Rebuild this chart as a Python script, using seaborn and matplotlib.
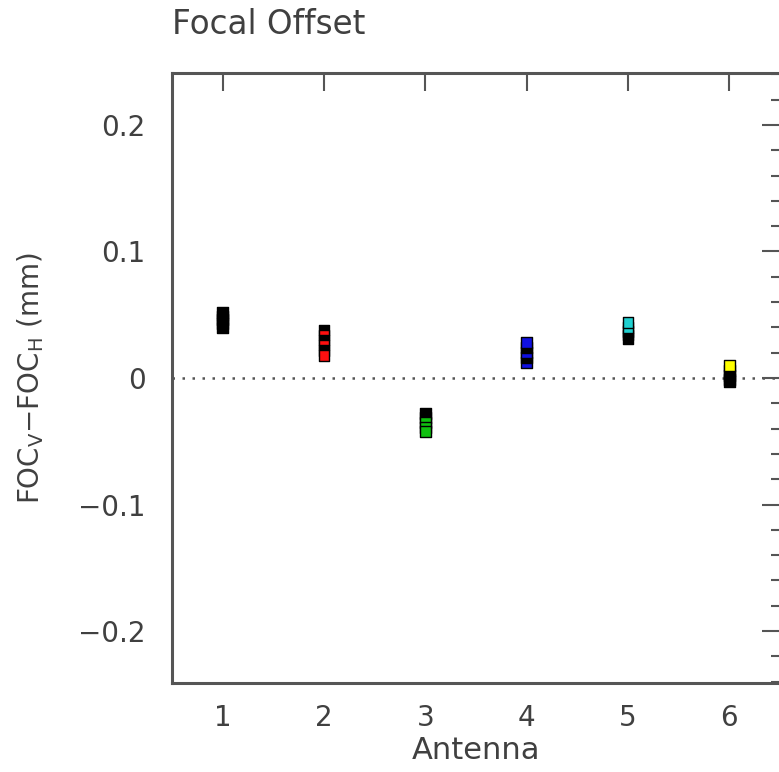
import matplotlib
matplotlib.use("Agg")
import matplotlib.pyplot as plt
from matplotlib.ticker import MultipleLocator
import seaborn as sns
import pandas as pd

antenna = [1, 1, 1, 1, 1,
           2, 2, 2, 2, 2, 2,
           3, 3, 3, 3, 3,
           4, 4, 4, 4, 4,
           5, 5, 5, 5, 5,
           6, 6, 6, 6, 6]
offset = [0.052, 0.049, 0.046, 0.043, 0.040,
          0.038, 0.034, 0.030, 0.026, 0.022, 0.018,
          -0.028, -0.031, -0.035, -0.039, -0.042,
          0.012, 0.016, 0.020, 0.024, 0.028,
          0.031, 0.034, 0.037, 0.040, 0.044,
          -0.003, -0.001, 0.002, 0.006, 0.010]
group = ["black"] * 5 + \
        ["black", "red", "black", "red", "black", "red"] + \
        ["black", "black", "green", "green", "green"] + \
        ["blue", "black", "blue", "black", "blue"] + \
        ["black", "black", "black", "cyan", "cyan"] + \
        ["black", "black", "black", "black", "yellow"]

colours = {"black": "#000000", "red": "#ff1010", "green": "#10c010",
           "blue": "#1010e0", "cyan": "#20d0d0", "yellow": "#ffff00"}

df = pd.DataFrame({"antenna": antenna, "offset": offset, "group": group})

sns.set_style("white")
plt.rcParams['font.family'] = ['DejaVu Sans']

fig = plt.figure(figsize=(7.79, 7.72), dpi=100)
ax = fig.add_axes([0.2208, 0.1153, 0.7805, 0.7901])

ax.axhline(0, color="#555555", linestyle=(0, (1, 3)), linewidth=1.8, zorder=1)

sns.scatterplot(data=df, x="antenna", y="offset", hue="group", palette=colours,
                marker="s", s=60, edgecolor="black", linewidth=1.0,
                legend=False, ax=ax, zorder=3)

ax.set_xlim(0.5, 6.5)
ax.set_ylim(-0.241, 0.241)
ax.xaxis.set_major_locator(MultipleLocator(1))
ax.yaxis.set_minor_locator(MultipleLocator(0.02))
ax.set_yticks([-0.2, -0.1, 0, 0.1, 0.2])
ax.set_yticklabels(["\u22120.2", "\u22120.1", "0", "0.1", "0.2"])

txt = "#404040"
for side in ax.spines.values():
    side.set_color("#555555")
    side.set_linewidth(2.2)
ax.tick_params(which="both", direction="in", top=True, right=True,
               colors="#555555", labelcolor=txt, labelsize=20)
ax.tick_params(axis="y", pad=19)
ax.tick_params(axis="x", pad=15)
ax.tick_params(which="major", length=13, width=1.5)
ax.tick_params(which="minor", length=6.5, width=1.5)
ax.tick_params(axis="x", which="minor", bottom=False, top=False)

ax.set_xlabel("Antenna", fontsize=22, color=txt, labelpad=3)
ax.set_ylabel("FOC$_\\mathregular{V}$\u2212FOC$_\\mathregular{H}$ (mm)",
              fontsize=20, color=txt, va="center")
ax.yaxis.set_label_coords(-0.232, 0.5)
fig.text(0.2208, 0.956, "Focal Offset", fontsize=23.5, color=txt,
         ha="left", va="baseline")

fig.savefig("out.png", dpi=100)
